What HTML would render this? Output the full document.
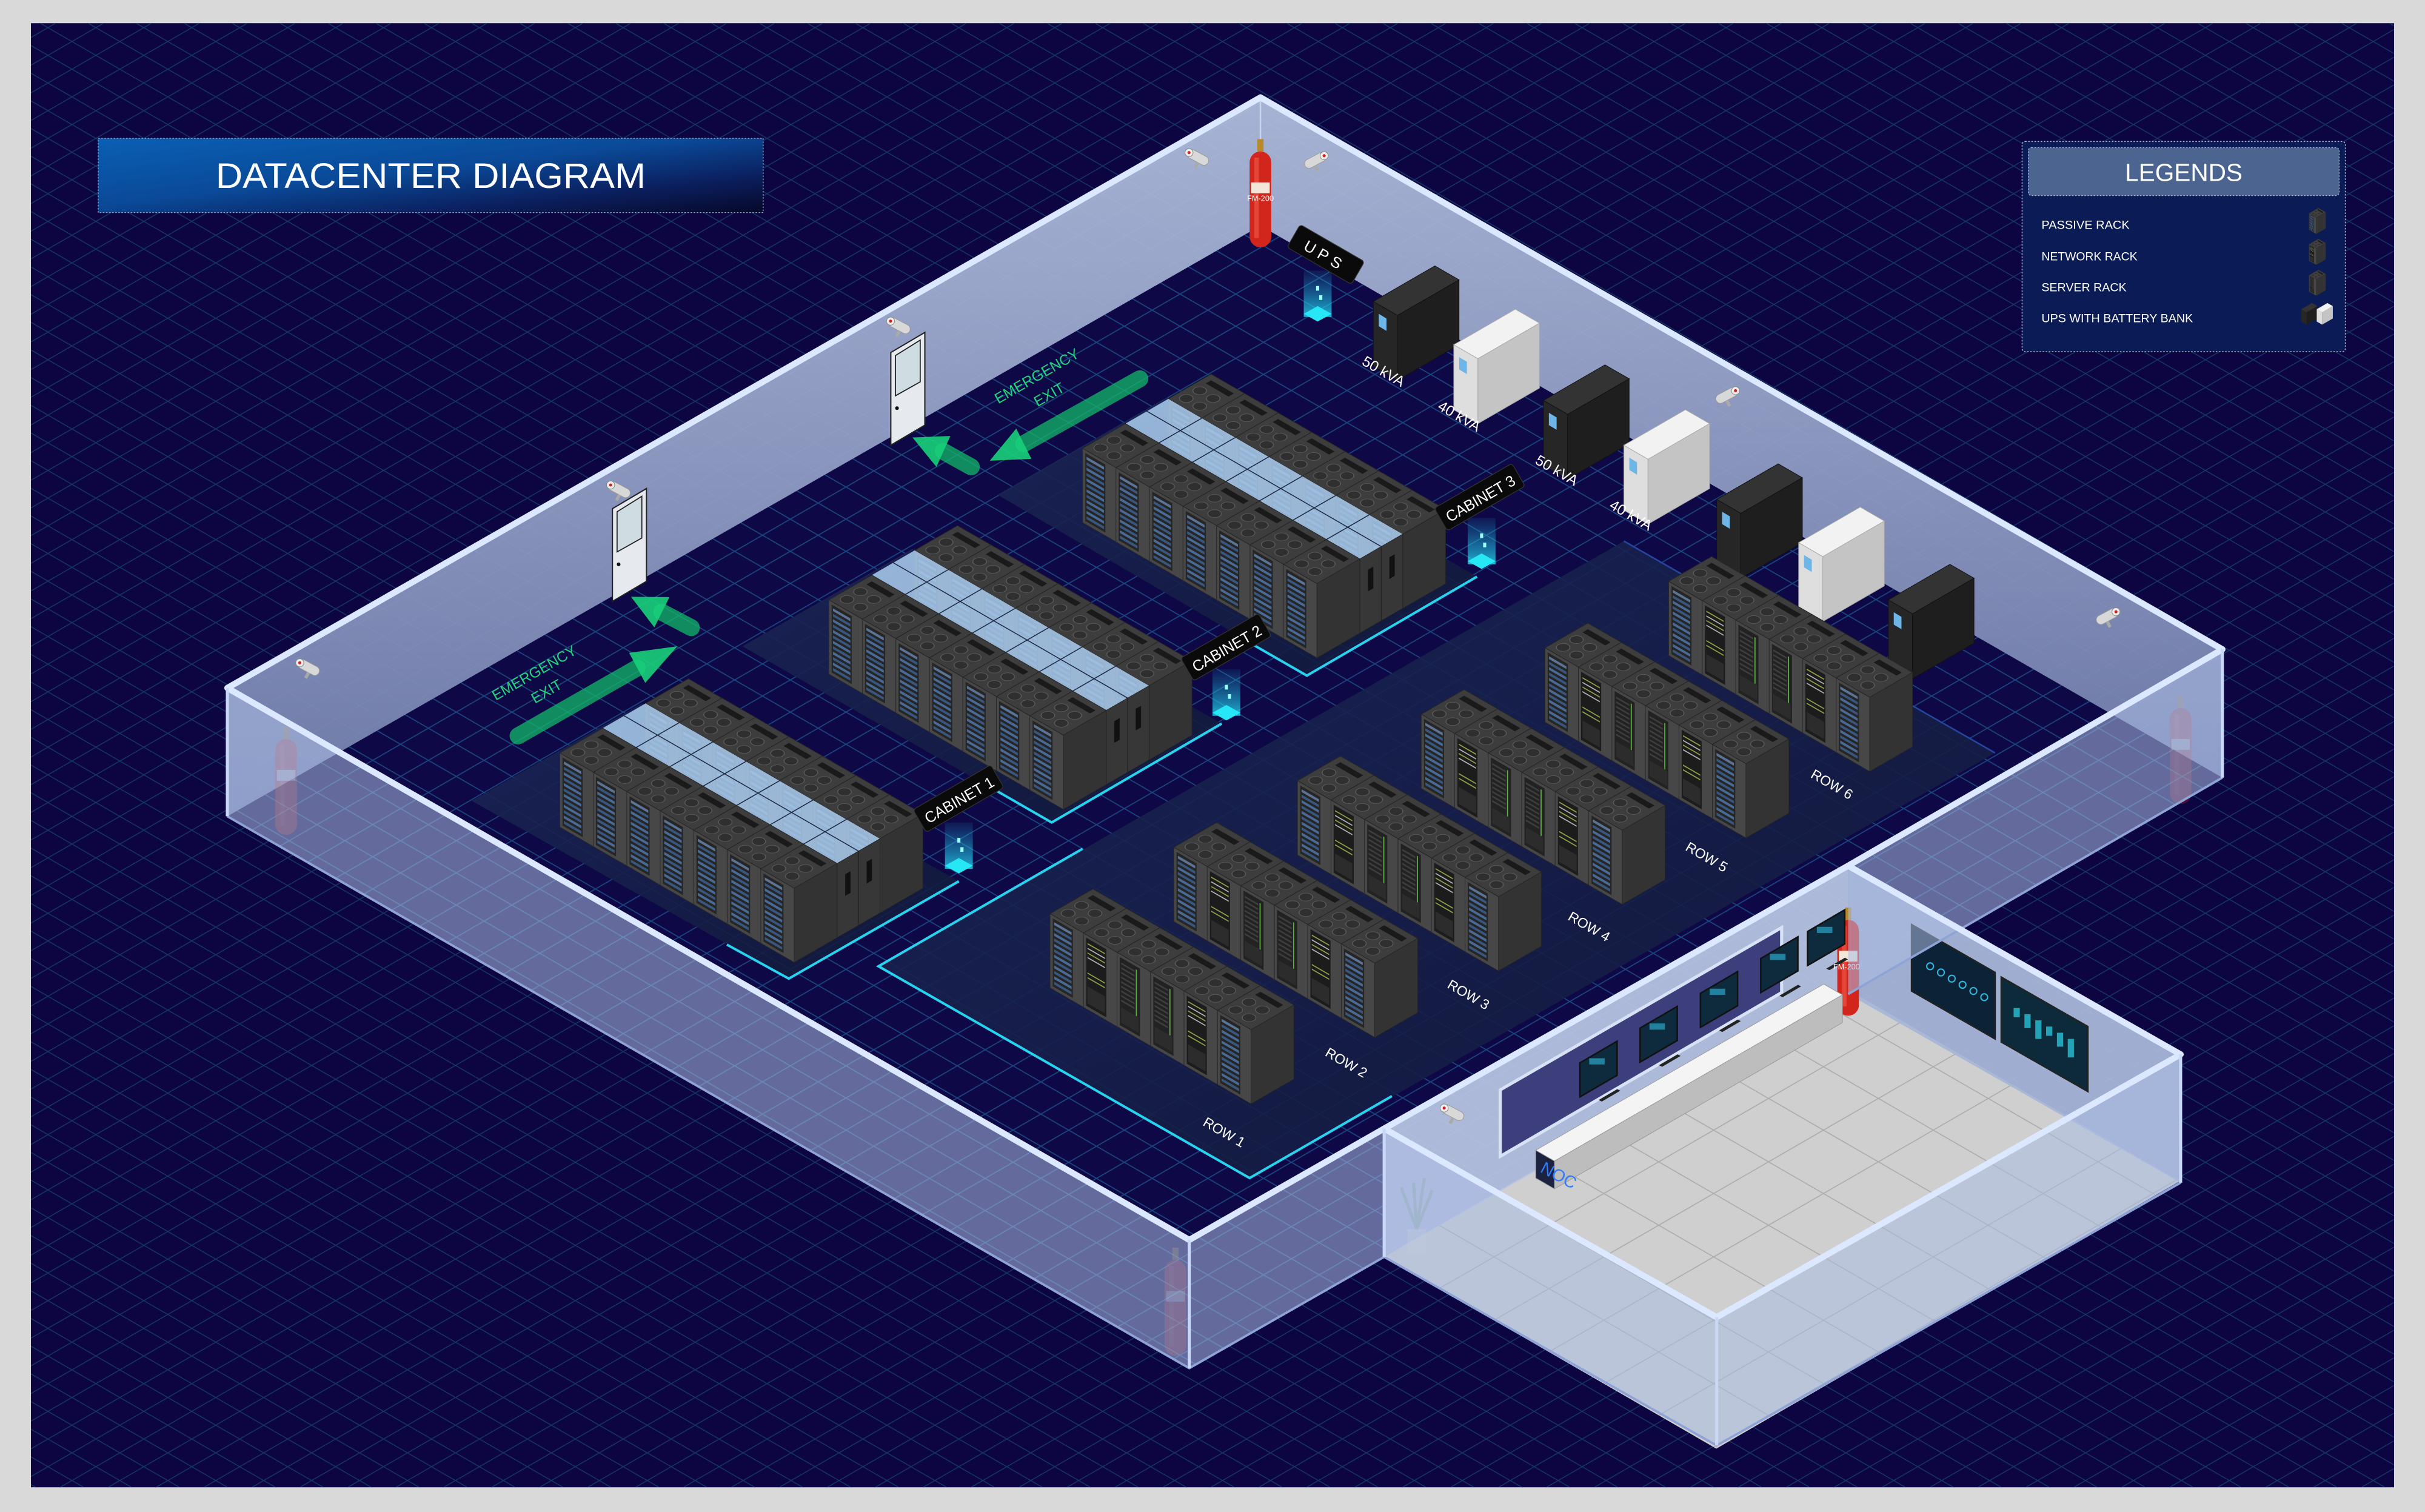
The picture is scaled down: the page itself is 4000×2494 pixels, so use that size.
<!DOCTYPE html>
<html><head><meta charset="utf-8"><style>
html,body{margin:0;padding:0;background:#d9d9d9;}
svg{display:block;}
text{font-family:"Liberation Sans",sans-serif;}
</style></head><body>
<svg id="svg" width="4000" height="2494" viewBox="0 0 1568 978" preserveAspectRatio="none" xmlns="http://www.w3.org/2000/svg">
<defs>
<pattern id="grid" width="31" height="17.9" patternUnits="userSpaceOnUse">
<path d="M0 0L31 17.9M0 17.9L31 0" stroke="#143766" stroke-width="0.55" fill="none"/>
</pattern>
<pattern id="grid2" width="36" height="20.8" patternUnits="userSpaceOnUse" x="7" y="3">
<path d="M0 0L36 20.8M0 20.8L36 0" stroke="#1c5088" stroke-width="0.7" fill="none"/>
</pattern>
<linearGradient id="tg" x1="0" y1="0" x2="1" y2="1">
<stop offset="0" stop-color="#0a5fb4"/><stop offset="0.45" stop-color="#0a4a98"/><stop offset="0.75" stop-color="#0b1f5e"/><stop offset="1" stop-color="#060828"/>
</linearGradient>
<linearGradient id="bw" x1="0" y1="0" x2="0" y2="1">
<stop offset="0" stop-color="#b4c2e0"/><stop offset="1" stop-color="#7683b0"/>
</linearGradient>
<linearGradient id="beam" x1="0" y1="0" x2="0" y2="1">
<stop offset="0" stop-color="#1aa8d8" stop-opacity="0.1"/><stop offset="1" stop-color="#22d8f0" stop-opacity="0.8"/>
</linearGradient>
<linearGradient id="zone" x1="0" y1="0" x2="1" y2="1">
<stop offset="0" stop-color="#1a2456"/><stop offset="1" stop-color="#121a3a"/>
</linearGradient>
<g id="tp"><rect width="25" height="32" fill="#3d3d3d" stroke="#262626" stroke-width="0.5"/>
<circle cx="6.5" cy="7" r="3.6" fill="#2f2f2f" stroke="#5a5a5a" stroke-width="0.5"/><circle cx="6.5" cy="17" r="3.6" fill="#2f2f2f" stroke="#5a5a5a" stroke-width="0.5"/>
<circle cx="16.5" cy="7" r="3.6" fill="#2f2f2f" stroke="#5a5a5a" stroke-width="0.5"/><circle cx="16.5" cy="17" r="3.6" fill="#2f2f2f" stroke="#5a5a5a" stroke-width="0.5"/>
<rect x="4" y="24" width="17" height="4" fill="#1a1a1a"/></g>
<g id="rf"><rect width="32" height="48" fill="#333" stroke="#262626" stroke-width="0.4"/></g>
<g id="lfP"><rect width="25" height="48" fill="#474747" stroke="#2a2a2a" stroke-width="0.4"/><rect x="2" y="2" width="15" height="44" fill="#252525"/>
<rect x="3" y="4" width="13" height="1.8" fill="#5b7496"/><rect x="3" y="7.5" width="13" height="1.8" fill="#38567e"/><rect x="3" y="11" width="13" height="1.8" fill="#4a6a96"/><rect x="3" y="14.5" width="13" height="1.8" fill="#38567e"/><rect x="3" y="18" width="13" height="1.8" fill="#4a6a96"/><rect x="3" y="21.5" width="13" height="1.8" fill="#38567e"/><rect x="3" y="25" width="13" height="1.8" fill="#4a6a96"/><rect x="3" y="28.5" width="13" height="1.8" fill="#38567e"/><rect x="3" y="32" width="13" height="1.8" fill="#4a6a96"/><rect x="3" y="35.5" width="13" height="1.8" fill="#38567e"/><rect x="3" y="39" width="13" height="1.8" fill="#4a6a96"/><rect x="3" y="42.5" width="13" height="1.8" fill="#38567e"/></g>
<g id="lfN"><rect width="25" height="48" fill="#474747" stroke="#2a2a2a" stroke-width="0.4"/><rect x="2" y="2" width="15" height="44" fill="#1c1c1c"/>
<rect x="3" y="5" width="13" height="0.8" fill="#8aa04a"/><rect x="3" y="8" width="13" height="0.8" fill="#b0b0b0"/><rect x="3" y="11" width="13" height="0.8" fill="#8aa04a"/><rect x="3" y="14" width="13" height="0.8" fill="#b0b0b0"/><rect x="3" y="24" width="13" height="0.8" fill="#8aa04a"/><rect x="3" y="27" width="13" height="0.8" fill="#8aa04a"/><rect x="3" y="33" width="13" height="11" fill="#2c2c2c"/></g>
<g id="lfS"><rect width="25" height="48" fill="#474747" stroke="#2a2a2a" stroke-width="0.4"/><rect x="2" y="2" width="15" height="44" fill="#222"/>
<rect x="3" y="5" width="10" height="1.2" fill="#3d3d3d"/><rect x="3" y="8" width="10" height="1.2" fill="#3d3d3d"/><rect x="3" y="11" width="10" height="1.2" fill="#3d3d3d"/><rect x="3" y="14" width="10" height="1.2" fill="#3d3d3d"/><rect x="3" y="17" width="10" height="1.2" fill="#3d3d3d"/><rect x="3" y="20" width="10" height="1.2" fill="#3d3d3d"/><rect x="3" y="23" width="10" height="1.2" fill="#3d3d3d"/><rect x="3" y="26" width="10" height="1.2" fill="#3d3d3d"/><rect x="3" y="29" width="10" height="1.2" fill="#3d3d3d"/><rect x="14" y="4" width="0.8" height="30" fill="#5fae4a"/><rect x="3" y="34" width="13" height="10" fill="#2c2c2c"/></g>
</defs>
<rect x="0" y="0" width="1568" height="978" fill="#d9d9d9"/>
<rect x="20" y="15" width="1528" height="947" fill="#0d0542"/>
<rect x="20" y="15" width="1528" height="947" fill="url(#grid)"/>
<g id="sh"></g>

<rect x="63.5" y="89.5" width="430" height="48" fill="url(#tg)" stroke="#8fa6c8" stroke-width="0.5" stroke-dasharray="1 1"/>
<text x="278.5" y="121.5" font-size="23" fill="#fff" text-anchor="middle" textLength="278" lengthAdjust="spacingAndGlyphs">DATACENTER DIAGRAM</text>

<rect x="1307.5" y="91.5" width="209" height="136" rx="2" fill="#0b1b55" stroke="#aab4cc" stroke-width="0.6" stroke-dasharray="1 1"/>
<rect x="1311.5" y="95.5" width="201" height="31" rx="2" fill="#4b6590" stroke="#aab4cc" stroke-width="0.5" stroke-dasharray="1 1"/>
<text x="1412" y="117" font-size="16" fill="#fff" text-anchor="middle" textLength="76" lengthAdjust="spacingAndGlyphs">LEGENDS</text>
<text x="1320" y="148" font-size="7.5" fill="#fff" textLength="57" lengthAdjust="spacingAndGlyphs">PASSIVE RACK</text>
<text x="1320" y="168.5" font-size="7.5" fill="#fff" textLength="62" lengthAdjust="spacingAndGlyphs">NETWORK RACK</text>
<text x="1320" y="188.5" font-size="7.5" fill="#fff" textLength="55" lengthAdjust="spacingAndGlyphs">SERVER RACK</text>
<text x="1320" y="208.5" font-size="7.5" fill="#fff" textLength="98" lengthAdjust="spacingAndGlyphs">UPS WITH BATTERY BANK</text>
<g id="lg"></g>

<g font-size="9" fill="#fff">
<text transform="translate(790,735) rotate(30)" text-anchor="middle">ROW 1</text>
<text transform="translate(869,690) rotate(30)" text-anchor="middle">ROW 2</text>
<text transform="translate(948,646) rotate(30)" text-anchor="middle">ROW 3</text>
<text transform="translate(1026,602) rotate(30)" text-anchor="middle">ROW 4</text>
<text transform="translate(1102,557) rotate(30)" text-anchor="middle">ROW 5</text>
<text transform="translate(1183,510) rotate(30)" text-anchor="middle">ROW 6</text>
<text transform="translate(893,243) rotate(30)" text-anchor="middle" font-size="9.5">50 kVA</text>
<text transform="translate(942,272) rotate(30)" text-anchor="middle" font-size="9.5">40 kVA</text>
<text transform="translate(1005,307) rotate(30)" text-anchor="middle" font-size="9.5">50 kVA</text>
<text transform="translate(1053,336) rotate(30)" text-anchor="middle" font-size="9.5">40 kVA</text>
</g>
<g transform="translate(857,165) rotate(30)"><rect x="-24" y="-9" width="48" height="17" rx="2" fill="#0a0a0a" stroke="#333" stroke-width="0.5"/><text x="0" y="4" font-size="10" fill="#fff" text-anchor="middle" letter-spacing="3">UPS</text></g>
<g transform="translate(620,517) rotate(-30)"><rect x="-29" y="-9" width="58" height="17" rx="2" fill="#0a0a0a" stroke="#333" stroke-width="0.5"/><text x="0" y="4" font-size="10" fill="#fff" text-anchor="middle" textLength="50" lengthAdjust="spacingAndGlyphs">CABINET 1</text></g>
<g transform="translate(793,419) rotate(-30)"><rect x="-29" y="-9" width="58" height="17" rx="2" fill="#0a0a0a" stroke="#333" stroke-width="0.5"/><text x="0" y="4" font-size="10" fill="#fff" text-anchor="middle" textLength="50" lengthAdjust="spacingAndGlyphs">CABINET 2</text></g>
<g transform="translate(957,322) rotate(-30)"><rect x="-29" y="-9" width="58" height="17" rx="2" fill="#0a0a0a" stroke="#333" stroke-width="0.5"/><text x="0" y="4" font-size="10" fill="#fff" text-anchor="middle" textLength="50" lengthAdjust="spacingAndGlyphs">CABINET 3</text></g>
<g font-size="9.5" fill="#22d47e" text-anchor="middle">
<text transform="translate(347,438) rotate(-30)">EMERGENCY</text>
<text transform="translate(355,450) rotate(-30)">EXIT</text>
<text transform="translate(672,246) rotate(-30)">EMERGENCY</text>
<text transform="translate(680,258) rotate(-30)">EXIT</text>
</g>
<g font-size="5" fill="#fff" text-anchor="middle">
<text x="815" y="130">FM-200</text>
<text x="1194" y="627">FM-200</text>
</g>
<text x="1008" y="764" font-size="11" fill="#2f7bff" text-anchor="middle" transform="rotate(28 1008 760)">NOC</text>
<g id="fw"></g>
</svg>
<script>
(function(){
const c=0.866;
let s='';
function pt(x,y,a,b,h){return [x+(a+b)*c, y+(a-b)*0.5-(h||0)];}
function P(arr,fill,ex){s+='<polygon points="'+arr.map(p=>p[0].toFixed(1)+','+p[1].toFixed(1)).join(' ')+'" fill="'+fill+'" '+(ex||'')+'/>';}
function dn(p,h){return [p[0],p[1]+h];}
function box(x,y,a,b,h,ct,cl,cr,ex){
 const t0=[x,y],t1=pt(x,y,a,0),t2=pt(x,y,a,b),t3=pt(x,y,0,b);
 P([t0,t1,dn(t1,h),dn(t0,h)],cl,ex);P([t1,t2,dn(t2,h),dn(t1,h)],cr,ex);P([t0,t1,t2,t3],ct,ex);
}
function rack(x,y,t){
 s+='<g transform="matrix('+c+',0.5,0,1,'+x.toFixed(1)+','+y.toFixed(1)+')"><use href="#lf'+t+'"/></g>';
 const p=pt(x,y,25,0);
 s+='<g transform="matrix('+c+',-0.5,0,1,'+p[0].toFixed(1)+','+p[1].toFixed(1)+')"><use href="#rf"/></g>';
 s+='<g transform="matrix('+c+',0.5,'+c+',-0.5,'+x.toFixed(1)+','+y.toFixed(1)+')"><use href="#tp"/></g>';
}
function line(a,b,col,w,ex){s+='<line x1="'+a[0]+'" y1="'+a[1]+'" x2="'+b[0]+'" y2="'+b[1]+'" stroke="'+col+'" stroke-width="'+w+'" '+(ex||'')+'/>';}
function cam(x,y,flip){
 s+='<g transform="translate('+x+','+y+') scale('+(flip?-1:1)+',1) rotate(28)"><rect x="-8" y="-3" width="15" height="6" rx="3" fill="#d8d8d8" stroke="#999" stroke-width="0.4"/><circle cx="-7" cy="0" r="2.6" fill="#eee" stroke="#888" stroke-width="0.4"/><circle cx="-7" cy="0" r="1" fill="#c22"/><rect x="0" y="3" width="2" height="4" fill="#aaa"/></g>';
}
function ext(x,y,op){
 s+='<g opacity="'+op+'"><rect x="'+(x-2)+'" y="'+(y-8)+'" width="4" height="8" fill="#b8892a"/><rect x="'+(x-7)+'" y="'+y+'" width="14" height="62" rx="7" fill="#d2261c"/><rect x="'+(x-4)+'" y="'+(y+4)+'" width="3" height="52" fill="#ee5a4a" opacity=".6"/><rect x="'+(x-6)+'" y="'+(y+20)+'" width="12" height="7" fill="#f2e6d8"/></g>';
}
const L=[147,445],T=[815,63],R=[1437,420],B=[769,802],H=83;
const Al=[895,730],At=[1195,560],Ar=[1410,682],Ab=[1110,852];
P([dn(L,H),dn(T,H),dn(R,H),dn(B,H)],'#0e0846');
P([dn(L,H),dn(T,H),dn(R,H),dn(B,H)],'url(#grid2)','opacity=".85"');
P([[305,518],[415,455],[620,570],[510,633]],'url(#zone)','opacity=".9"');
P([[480,418],[590,355],[790,468],[680,532]],'url(#zone)','opacity=".9"');
P([[645,320],[755,257],[955,373],[845,437]],'url(#zone)','opacity=".9"');
P([[568,625],[1050,350],[1290,487],[808,762]],'url(#zone)','opacity=".9"');
s+='<polyline points="470,611 510,633 620,570" fill="none" stroke="#27d4f0" stroke-width="1.6"/>';
s+='<polyline points="640,509 680,532 790,468" fill="none" stroke="#27d4f0" stroke-width="1.6"/>';
s+='<polyline points="805,414 845,437 955,373" fill="none" stroke="#27d4f0" stroke-width="1.6"/>';
s+='<polyline points="700,549 568,625 808,762 900,709" fill="none" stroke="#27d4f0" stroke-width="1.6"/>';
s+='<polyline points="1050,350 1290,487" fill="none" stroke="#2446a0" stroke-width="1"/>';
P([L,T,dn(T,H),dn(L,H)],'url(#bw)','opacity=".92"');
P([T,R,dn(R,H),dn(T,H)],'url(#bw)','opacity=".92"');
line(T,dn(T,H),'#c8d4ee',1);
function door(x,y){P([[x,y],[x+22,y-13],[x+22,y-73],[x,y-60]],'#e6e9ee','stroke="#222" stroke-width="0.8"');P([[x+3,y-32],[x+19,y-41],[x+19,y-68],[x+3,y-58]],'#cfdde2','stroke="#222" stroke-width="0.7"');s+='<circle cx="'+(x+4)+'" cy="'+(y-24)+'" r="1.2" fill="#111"/>';}
door(576,288);door(396,389);
cam(775,102);cam(850,104,1);cam(582,211);cam(401,317);cam(200,432);cam(1116,256,1);cam(1362,399,1);
ext(815,98,1);
function arrow(x1,y1,x2,y2,hx,hy){
 s+='<line x1="'+x1+'" y1="'+y1+'" x2="'+x2+'" y2="'+y2+'" stroke="#13b86a" stroke-opacity=".75" stroke-width="11" stroke-linecap="round"/>';
 const dx=hx-x2,dy=hy-y2,l=Math.hypot(dx,dy),ux=dx/l,uy=dy/l,w=11;
 P([[hx,hy],[x2-uy*w,y2+ux*w],[x2+uy*w,y2-ux*w]],'#18d07a','opacity=".9"');
}
arrow(335,476,412,432,438,418);
arrow(447,406,428,396,408,386);
arrow(737,245,662,287,640,298);
arrow(628,302,610,292,590,283);
function beam(x,y){s+='<rect x="'+(x-9)+'" y="'+(y-28)+'" width="18" height="30" fill="url(#beam)"/>';P([[x-9,y],[x,y-5],[x+9,y],[x,y+5]],'#27e6f6');s+='<rect x="'+(x-1)+'" y="'+(y-18)+'" width="2" height="3" fill="#9ff"/><rect x="'+(x+1)+'" y="'+(y-12)+'" width="2" height="3" fill="#9ff"/>';}
beam(852,203);beam(620,560);beam(793,461);beam(958,363);
const ups=[[888,195,0],[940,223,1],[998,259,0],[1050,288,1],[1110,323,0],[1163,351,1],[1221,388,0]];
ups.forEach(u=>{
 if(u[2]) box(u[0],u[1],18,46,42,'#f2f2f2','#dedede','#c4c4c4','stroke="#aaa" stroke-width="0.4"');
 else box(u[0],u[1],18,46,42,'#333','#262626','#1e1e1e','stroke="#111" stroke-width="0.4"');
 const p=pt(u[0],u[1],4,0);
 P([[p[0],p[1]+6],[p[0]+5,p[1]+9],[p[0]+5,p[1]+17],[p[0],p[1]+14]],'#6fb6e8');
});
function cab(x,y){
 const n=7;
 for(let i=0;i<n;i++){const p=pt(x,y,i*25,64);rack(p[0],p[1],'P');}
 const q=pt(x,y,0,32);
 let g='<g transform="matrix('+c+',0.5,'+c+',-0.5,'+q[0].toFixed(1)+','+q[1].toFixed(1)+')"><rect width="175" height="32" fill="#a6c8ea" opacity=".88"/>';
 for(let i=1;i<n;i++) g+='<line x1="'+i*25+'" y1="0" x2="'+i*25+'" y2="32" stroke="#1e2a44" stroke-width="0.7"/>';
 g+='<line x1="0" y1="16" x2="175" y2="16" stroke="#1e2a44" stroke-width="0.7"/></g>';
 s+=g;
 const e=pt(x,y,175,32);
 s+='<g transform="matrix('+c+',-0.5,0,1,'+e[0].toFixed(1)+','+e[1].toFixed(1)+')"><rect width="32" height="48" fill="#373737" stroke="#222" stroke-width="0.4"/><line x1="16" y1="0" x2="16" y2="48" stroke="#222" stroke-width="0.6"/><rect x="6" y="10" width="4" height="14" fill="#111"/><rect x="22" y="10" width="4" height="14" fill="#111"/></g>';
 for(let i=0;i<n;i++){const p=pt(x,y,i*25,0);rack(p[0],p[1],'P');}
}
cab(700,290);cab(536,388);cab(362,487);
const rows=[[1079,376],[999,419],[919,462],[839,505],[759,548],[679,591]];
const ty=['P','N','S','S','N','P'];
rows.forEach(r=>{for(let i=0;i<6;i++){const p=pt(r[0],r[1],i*25,0);rack(p[0],p[1],ty[i]);}});
ext(185,478,0.35);ext(1410,458,0.3);ext(760,815,0.3);
let f='<g transform="matrix('+c+',0.5,'+c+',-0.5,'+Al[0]+','+(Al[1]+H)+')"><rect width="248" height="346" fill="#cfcfcf"/>';
for(let a=41;a<248;a+=41) f+='<line x1="'+a+'" y1="0" x2="'+a+'" y2="346" stroke="#aeaeae" stroke-width="0.8"/>';
for(let b=41;b<346;b+=41) f+='<line x1="0" y1="'+b+'" x2="248" y2="'+b+'" stroke="#aeaeae" stroke-width="0.8"/>';
f+='</g>';s+=f;
P([Al,At,dn(At,H),dn(Al,H)],'#b6c3e2','opacity=".95"');
P([[970,705],[1152,600],[1152,642],[970,748]],'#3c3f7c','stroke="#d8e2f6" stroke-width="2"');
P([At,Ar,dn(Ar,H),dn(At,H)],'#a8b6d8','opacity=".95"');
P([[1236,598],[1290,629],[1290,672],[1236,641]],'#0c2236','stroke="#222" stroke-width="1"');
P([[1294,632],[1350,664],[1350,706],[1294,674]],'#0c2a3a','stroke="#222" stroke-width="1"');
for(let i=0;i<6;i++){s+='<circle cx="'+(1248+i*7)+'" cy="'+(625+i*4)+'" r="2.2" fill="none" stroke="#2fb8e0" stroke-width="0.8"/>';s+='<rect x="'+(1302+i*7)+'" y="'+(662+i*4-10)+'" width="4" height="'+(6+i%3*3)+'" fill="#29c2d8" opacity=".8"/>';}
ext(1195,595,1);
box(993,744,14,215,18,'#f4f4f4','#1b2340','#bdbdbd','stroke="#999" stroke-width="0.4"');
[30,75,120,165,200].forEach(b=>{const p=pt(993,744,3,b,18);P([[p[0],p[1]-3],[p[0]+24,p[1]-17],[p[0]+24,p[1]-39],[p[0],p[1]-25]],'#0e2b3e','stroke="#111" stroke-width="1"');s+='<rect x="'+(p[0]+6)+'" y="'+(p[1]-28)+'" width="10" height="4" fill="#2aa6c8" opacity=".7"/>';const k=pt(993,744,9,b+8,18);P([[k[0],k[1]],[k[0]+12,k[1]-7],[k[0]+14,k[1]-6],[k[0]+2,k[1]+1]],'#222');});
s+='<g opacity=".35"><rect x="910" y="795" width="12" height="16" fill="#ddd"/><path d="M916 795 L906 768 M916 795 L914 765 M916 795 L926 770 M916 795 L921 762" stroke="#6a9a6a" stroke-width="2"/></g>';
document.getElementById('sh').innerHTML=s;
s='';
const fwA='rgba(172,190,228,0.55)';
P([L,B,dn(B,H),dn(L,H)],fwA);
P([B,Al,dn(Al,H),dn(B,H)],fwA);
P([At,R,dn(R,H),dn(At,H)],fwA);
P([Al,Ab,dn(Ab,H),dn(Al,H)],fwA);
P([Ab,Ar,dn(Ar,H),dn(Ab,H)],fwA);
s+='<polyline points="'+[dn(L,H),dn(B,H),dn(Al,H)].map(p=>p.join(',')).join(' ')+'" fill="none" stroke="#8fa4d6" stroke-width="1.5"/>';
s+='<polyline points="'+[dn(Al,H),dn(Ab,H),dn(Ar,H)].map(p=>p.join(',')).join(' ')+'" fill="none" stroke="#8fa4d6" stroke-width="1.5"/>';
s+='<polyline points="'+[dn(At,H),dn(R,H)].map(p=>p.join(',')).join(' ')+'" fill="none" stroke="#8fa4d6" stroke-width="1.5"/>';
const rim='fill="none" stroke="#dbe8ff" stroke-width="4" stroke-linejoin="round"';
s+='<polyline points="'+[B,L,T,R,[1195,560]].map(p=>p.join(',')).join(' ')+'" '+rim+'/>';
s+='<polyline points="'+[B,Al,At,Ar,Ab,Al].map(p=>p.join(',')).join(' ')+'" '+rim+'/>';
[L,B,R,Ab,Ar,Al].forEach(p=>line(p,dn(p,H),'#c9d8f6',2));
cam(940,720);
document.getElementById('fw').innerHTML=s;
s='';
function lrack(x,y,t){s+='<g transform="translate('+x+','+y+') scale(0.22)">';const ss=s;s='';rack(0,0,t);const r=s;s=ss+r+'</g>';}
lrack(1493,138,'P');lrack(1493,158,'N');lrack(1493,178,'S');
box(1488,200,4,8,8,'#333','#262626','#1e1e1e');
box(1498,200,4,8,8,'#f2f2f2','#dedede','#c4c4c4');
document.getElementById('lg').innerHTML=s;
})();
</script>
</body></html>
